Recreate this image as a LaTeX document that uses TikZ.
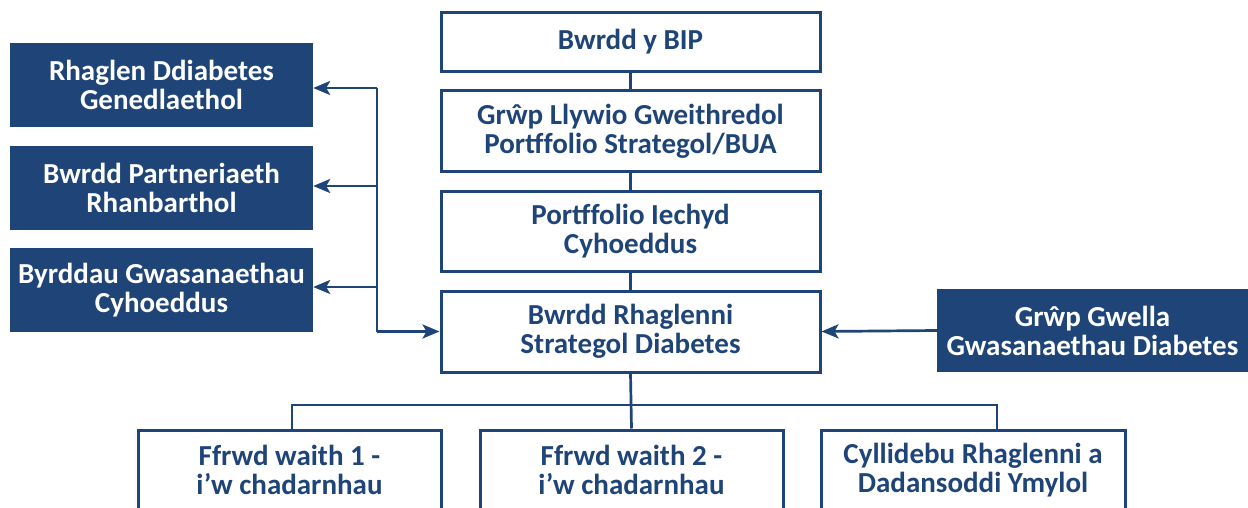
\documentclass[tikz,border=0pt]{standalone}
\usepackage{fontspec}
\setmainfont{Carlito}
\usetikzlibrary{arrows.meta}
\definecolor{nhsblue}{HTML}{1E4478}
\begin{document}
\begin{tikzpicture}[x=1pt,y=-1pt,
  every node/.style={font=\fontsize{29}{29}\selectfont\bfseries, align=center, inner sep=0pt},
  wbox/.style={draw=nhsblue, line width=3pt, fill=white, text=nhsblue, minimum width=379pt},
  fbox/.style={fill=nhsblue, text=white},
  conn/.style={draw=nhsblue, line width=2.7pt},
  arr/.style={conn, -{Stealth[length=17pt,width=14pt,inset=4pt]}}]
\useasboundingbox (0,0) rectangle (1248,508);
\clip (0,0) rectangle (1248,508);
\fill[white] (0,0) rectangle (1248,508);
% main column
\node[wbox, minimum height=59pt] (bip) at (630.5,42) {Bwrdd y BIP};
\node[wbox, minimum height=81pt] (grwp) at (630.5,131.5) {Grŵp Llywio Gweithredol\\Portffolio Strategol/BUA};
\node[wbox, minimum height=80pt] (port) at (630.5,231) {Portffolio Iechyd\\Cyhoeddus};
\node[wbox, minimum height=81pt] (bwrdd) at (630.5,331.5) {Bwrdd Rhaglenni\\Strategol Diabetes};
% left boxes
\node[fbox, minimum width=303pt, minimum height=84pt] (l1) at (161.5,85) {Rhaglen Ddiabetes\\Genedlaethol};
\node[fbox, minimum width=303pt, minimum height=84pt] (l2) at (161.5,188) {Bwrdd Partneriaeth\\Rhanbarthol};
\node[fbox, minimum width=303pt, minimum height=84pt] (l3) at (161.5,290) {Byrddau Gwasanaethau\\Cyhoeddus};
% right box
\node[fbox, minimum width=311pt, minimum height=83pt] (r) at (1092.5,330.5) {Grŵp Gwella\\Gwasanaethau Diabetes};
% bottom boxes
\node[wbox, minimum width=303pt, minimum height=80pt] (b1) at (289.5,470) {Ffrwd waith 1 -\\i’w chadarnhau};
\node[wbox, minimum width=303pt, minimum height=80pt] (b2) at (631.5,470) {Ffrwd waith 2 -\\i’w chadarnhau};
\node[wbox, minimum width=304pt, minimum height=80pt] (b3) at (973,470) {Cyllidebu Rhaglenni a\\Dadansoddi Ymylol};
% vertical links
\draw[conn] (bip.south) -- (grwp.north);
\draw[conn] (grwp.south) -- (port.north);
\draw[conn] (port.south) -- (bwrdd.north);
% left spine
\coordinate (s1) at (377,88);
\coordinate (s2) at (377,186);
\coordinate (s3) at (377,287);
\coordinate (s4) at (377,331.5);
\draw[conn] (s1) -- (s4);
\draw[arr] (s4) -- (bwrdd.west);
\draw[arr] (s1) -- (l1.east |- s1);
\draw[arr] (s2) -- (l2.east |- s2);
\draw[arr] (s3) -- (l3.east |- s3);
% right arrow
\draw[arr] (r.west) -- (bwrdd.east);
% bottom tree
\coordinate (h0) at (631,405);
\coordinate (h1) at (292,405);
\coordinate (h3) at (997,405);
\draw[conn] (bwrdd.south) -- (b2.north);
\draw[conn] (h1 |- b1.north) -- (h1) -- (h3) -- (h3 |- b3.north);
\end{tikzpicture}
\end{document}
